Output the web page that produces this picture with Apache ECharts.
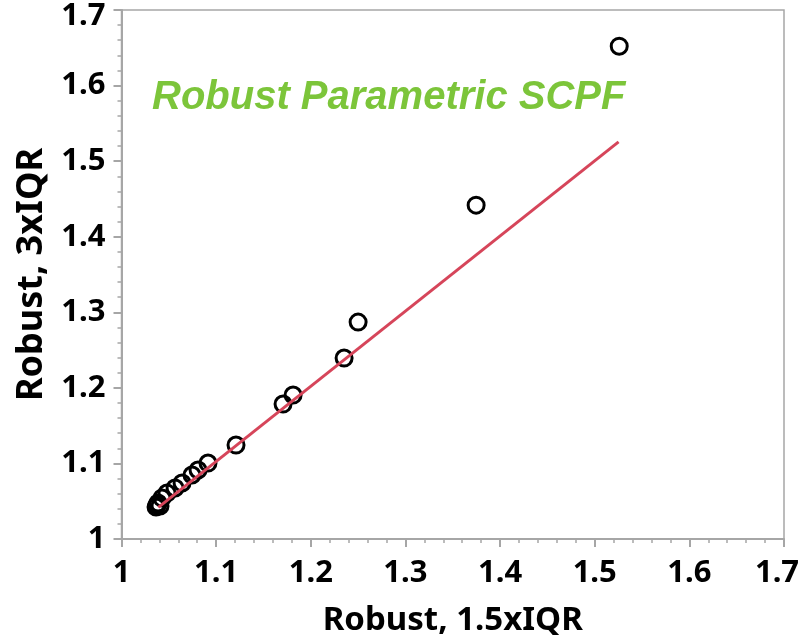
<!DOCTYPE html>
<html>
<head>
<meta charset="utf-8">
<script src="https://cdn.jsdelivr.net/npm/echarts@6/dist/echarts.min.js"></script>
<style>
  html, body { margin: 0; padding: 0; background: #fff; }
  #chart { width: 802px; height: 642px; }
</style>
</head>
<body>
<div id="chart"></div>
<script>
// Robust 1.5xIQR limits (x) against robust 3xIQR limits (y)
const xVals = [1.5259, 1.3747, 1.2500, 1.2352, 1.1813, 1.1707, 1.1210, 1.0914, 1.0809, 1.0745, 1.0640, 1.0566, 1.0481, 1.0428, 1.0386, 1.0375, 1.0407, 1.0365];
const yVals = [1.6521, 1.4418, 1.2870, 1.2394, 1.1905, 1.1786, 1.1243, 1.1005, 1.0913, 1.0847, 1.0741, 1.0675, 1.0608, 1.0542, 1.0476, 1.0450, 1.0437, 1.0423];

// Fitted line end points
const fitX = [1.0389, 1.5252];
const fitY = [1.0419, 1.5255];

const xTicks = [1, 1.7, 0.1];
const yTicks = [1, 1.7, 0.1];

const titleText = 'Robust Parametric SCPF';
const xName = 'Robust, 1.5xIQR';
const yName = 'Robust, 3xIQR';

const labelFont = '"Noto Sans", "Open Sans", sans-serif';
const axisColor = '#a6a6a6';

const chart = echarts.init(document.getElementById('chart'), null, { renderer: 'canvas' });

// The last tick label is nudged inwards so it stays on the canvas
function axisCommon(range, name, nameGap, nameSize, edgePadding) {
  const baseText = { fontFamily: labelFont, fontWeight: 'bold', fontSize: 31, color: '#000' };
  return {
    type: 'value',
    min: range[0],
    max: range[1],
    interval: range[2],
    name: name,
    nameLocation: 'middle',
    nameGap: nameGap,
    nameTextStyle: { fontFamily: labelFont, fontWeight: 'bold', fontSize: nameSize, color: '#000' },
    axisLine: { show: true, onZero: false, lineStyle: { color: axisColor, width: 2 } },
    axisTick: { show: true, inside: false, length: 8, lineStyle: { color: axisColor, width: 2 } },
    minorTick: { show: true, splitNumber: 5, length: 4, lineStyle: { color: axisColor, width: 1.5 } },
    splitLine: { show: false },
    axisLabel: Object.assign({}, baseText, {
      formatter: v => {
        const s = String(Math.round(v * 10) / 10);
        return Math.abs(v - range[1]) < 1e-9 ? '{edge|' + s + '}' : s;
      },
      rich: { edge: Object.assign({}, baseText, { padding: edgePadding }) }
    })
  };
}

const xAxis = axisCommon(xTicks, xName, 65, 33, [0, 14, 0, 0]);
xAxis.axisLabel.margin = 19;
const yAxis = axisCommon(yTicks, yName, 72, 36, [12, 0, 0, 0]);
yAxis.axisLabel.margin = 16;

chart.setOption({
  animation: false,
  backgroundColor: '#fff',
  title: {
    text: titleText,
    left: 147,
    top: 73,
    textStyle: {
      fontFamily: '"Liberation Sans", Arial, sans-serif',
      fontWeight: 'bold',
      fontStyle: 'italic',
      fontSize: 40,
      color: '#7cc53a'
    }
  },
  grid: {
    left: 121.5, right: 18, top: 10, bottom: 103,
    containLabel: false,
    outerBoundsMode: 'none',
    show: true, borderColor: axisColor, borderWidth: 1.5, backgroundColor: 'transparent'
  },
  xAxis: xAxis,
  yAxis: yAxis,
  series: [
    {
      type: 'line',
      data: fitX.map((x, i) => [x, fitY[i]]),
      symbol: 'none',
      lineStyle: { color: '#d6455a', width: 3 },
      z: 3
    },
    {
      type: 'scatter',
      data: xVals.map((x, i) => [x, yVals[i]]),
      symbol: 'circle',
      symbolSize: 16,
      itemStyle: { color: 'rgba(255,255,255,0)', borderColor: '#000', borderWidth: 3, opacity: 1 },
      z: 2
    }
  ]
});
</script>
</body>
</html>
